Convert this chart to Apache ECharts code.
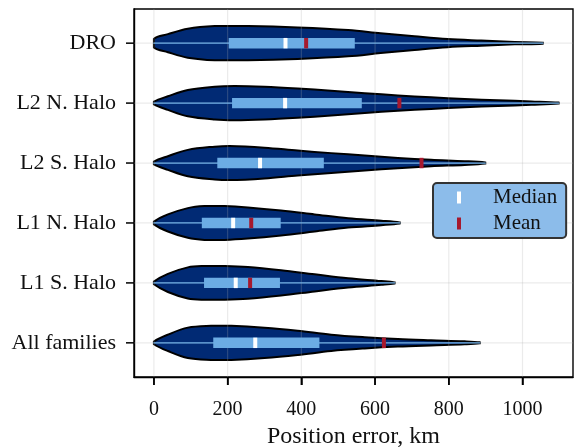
<!DOCTYPE html>
<html>
<head>
<meta charset="utf-8">
<script src="https://cdn.jsdelivr.net/npm/echarts@6/dist/echarts.min.js"></script>
<style>html,body{margin:0;padding:0;background:#fff}#c{width:575px;height:447px}</style>
</head>
<body>
<div id="c"></div>
<script>
const categories = ['DRO', 'L2 N. Halo', 'L2 S. Halo', 'L1 N. Halo', 'L1 S. Halo', 'All families'];
const xTicks = [0, 200, 400, 600, 800, 1000];
const q1 = [203, 212, 172, 130, 136, 161];
const q3 = [545, 564, 461, 344, 342, 449];
const medians = [357, 356, 288, 215, 222, 275];
const means = [413, 666, 726, 264, 261, 624];
const maxima = [1055, 1098, 899, 667, 653, 884];

// violin outlines: position (km) and relative density width
const droKm = [0, 38, 92, 165, 255, 390, 527, 615, 707, 797, 888, 979, 1055];
const droW = [0.25, 0.53, 0.85, 1, 1, 0.92, 0.77, 0.58, 0.40, 0.24, 0.15, 0.07, 0.03];
const l2nKm = [0, 38, 92, 165, 219, 300, 390, 481, 572, 662, 752, 843, 934, 1024, 1098];
const l2nW = [0.08, 0.40, 0.77, 0.96, 1, 0.96, 0.86, 0.73, 0.58, 0.45, 0.34, 0.24, 0.17, 0.10, 0.03];
const l2sKm = [0, 38, 92, 165, 205, 300, 390, 481, 572, 662, 752, 843, 899];
const l2sW = [0.08, 0.40, 0.77, 0.96, 1, 0.90, 0.73, 0.58, 0.44, 0.30, 0.19, 0.11, 0.03];
const l1nKm = [0, 38, 92, 137, 192, 255, 345, 436, 527, 617, 667];
const l1nW = [0.08, 0.50, 0.87, 0.99, 0.99, 0.91, 0.73, 0.50, 0.27, 0.13, 0.03];
const l1sKm = [0, 38, 92, 137, 192, 255, 345, 436, 527, 617, 653];
const l1sW = [0.08, 0.53, 0.91, 0.99, 0.99, 0.93, 0.74, 0.50, 0.27, 0.11, 0.03];
const allKm = [0, 38, 92, 155, 210, 300, 390, 481, 572, 662, 752, 843, 884];
const allW = [0.08, 0.48, 0.89, 1, 1, 0.89, 0.71, 0.48, 0.33, 0.22, 0.15, 0.09, 0.03];

const profiles = [
  [droKm, droW], [l2nKm, l2nW], [l2sKm, l2sW],
  [l1nKm, l1nW], [l1sKm, l1sW], [allKm, allW]
];

const NAVY = '#012a74';
const LIGHT = '#6cace4';
const RED = '#a6192e';
const FONT = 'Liberation Serif';
const HALF = 0.285;   // max violin half-width in category units
const BOXH = 0.087;   // box half-height in category units
const PAD = 0.57;     // axis padding beyond the outer categories (category units)
const TICK = 8;       // tick length, px
const N = categories.length;
const X_MIN = -54, X_MAX = 1137;

// category i (top to bottom) -> y value on the axis (0 at the bottom edge)
const yPos = i => (N - 1 - i) + PAD;
const catIdx = categories.map((c, i) => i);
const catTicks = catIdx.map(yPos);
const catData = catIdx.map(i => [0, i]);

function renderViolin(params, api) {
  const i = api.value(1);
  const km = profiles[i][0], w = profiles[i][1];
  const unit = api.size([0, 1])[1];
  const top = [], bot = [];
  let minX = Infinity, maxX = -Infinity, minY = Infinity, maxY = -Infinity;
  for (let k = 0; k < km.length; k++) {
    const p = api.coord([km[k], yPos(i)]);
    const h = w[k] * HALF * unit;
    top.push([p[0], p[1] - h]);
    bot.unshift([p[0], p[1] + h]);
    minX = Math.min(minX, p[0]); maxX = Math.max(maxX, p[0]);
    minY = Math.min(minY, p[1] - h); maxY = Math.max(maxY, p[1] + h);
  }
  return {
    type: 'polygon',
    shape: { points: top.concat(bot), smooth: 0.35, smoothConstraint: [[minX, minY], [maxX, maxY]] },
    style: { fill: NAVY, stroke: '#000', lineWidth: 2 }
  };
}

function renderGrid(params, api) {
  const cs = params.coordSys;
  const kind = api.value(0), v = api.value(1);
  let shape;
  if (kind === 0) {
    const p = api.coord([v, 1]);
    shape = { x1: p[0], y1: cs.y, x2: p[0], y2: cs.y + cs.height };
  } else {
    const p = api.coord([0, yPos(v)]);
    shape = { x1: cs.x, y1: p[1], x2: cs.x + cs.width, y2: p[1] };
  }
  return { type: 'line', shape: shape, style: { stroke: 'rgba(175,175,175,0.25)', lineWidth: 1.2 } };
}

// outward axis ticks at the tick values
function renderTicks(params, api) {
  const cs = params.coordSys;
  const kind = api.value(0), v = api.value(1);
  let shape;
  if (kind === 0) {
    const p = api.coord([v, 1]);
    const yb = cs.y + cs.height;
    shape = { x1: p[0], y1: yb, x2: p[0], y2: yb + TICK };
  } else {
    const p = api.coord([0, yPos(v)]);
    shape = { x1: cs.x, y1: p[1], x2: cs.x - TICK, y2: p[1] };
  }
  return { type: 'line', shape: shape, style: { stroke: '#000', lineWidth: 1.5 } };
}

function renderBox(params, api) {
  const i = api.value(1);
  const y = yPos(i);
  const unit = api.size([0, 1])[1];
  const a = api.coord([0, y]), b = api.coord([maxima[i], y]);
  const l = api.coord([q1[i], y]), r = api.coord([q3[i], y]);
  const h = BOXH * unit;
  return {
    type: 'group',
    children: [
      { type: 'line', shape: { x1: a[0], y1: a[1], x2: b[0], y2: b[1] },
        style: { stroke: LIGHT, lineWidth: 1.3, lineCap: 'round' } },
      { type: 'rect', shape: { x: l[0], y: l[1] - h, width: r[0] - l[0], height: 2 * h },
        style: { fill: LIGHT } }
    ]
  };
}

function makeMarker(values, color) {
  return function (params, api) {
    const i = api.value(1);
    const unit = api.size([0, 1])[1];
    const p = api.coord([values[i], yPos(i)]);
    const h = BOXH * unit;
    return { type: 'rect', shape: { x: p[0] - 2, y: p[1] - h, width: 4, height: 2 * h },
      style: { fill: color } };
  };
}

const gridData = xTicks.map(v => [0, v]).concat(catIdx.map(i => [1, i]));

const chart = echarts.init(document.getElementById('c'), null, { renderer: 'canvas' });
chart.setOption({
  animation: false,
  backgroundColor: '#fff',
  textStyle: { fontFamily: FONT },
  grid: { left: 134, right: 2, top: 9, bottom: 70, show: true, borderColor: '#000', borderWidth: 1.4,
    backgroundColor: 'transparent', containLabel: false, outerBoundsMode: 'none' },
  xAxis: {
    type: 'value', min: X_MIN, max: X_MAX,
    name: 'Position error, km', nameLocation: 'middle', nameGap: 48,
    nameTextStyle: { fontFamily: FONT, fontSize: 24, color: '#111' },
    axisLine: { show: true, lineStyle: { color: '#000', width: 1.4 } },
    axisTick: { show: true, customValues: xTicks, length: TICK, lineStyle: { color: '#000', width: 1.5 } },
    axisLabel: { customValues: xTicks, margin: 23, fontFamily: FONT, fontSize: 20, color: '#111',
      formatter: v => String(v) },
    splitLine: { show: false }
  },
  yAxis: {
    type: 'value', min: 0, max: N - 1 + 2 * PAD,
    axisLine: { show: true, onZero: false, lineStyle: { color: '#000', width: 1.4 } },
    axisTick: { show: false },
    axisLabel: { customValues: catTicks, margin: 18, fontFamily: FONT, fontSize: 22, color: '#111',
      formatter: v => categories[Math.round(N - 1 + PAD - v)] },
    splitLine: { show: false }
  },
  legend: {
    orient: 'vertical', left: 433, top: 183,
    backgroundColor: '#8cbcea', borderColor: '#333', borderWidth: 2, borderRadius: 4,
    padding: [4, 9, 4, 24], itemGap: 5, itemWidth: 4, itemHeight: 12,
    textStyle: { fontFamily: FONT, fontSize: 21, color: '#111', padding: [0, 0, 0, 27] },
    data: [
      { name: 'Median', icon: 'rect', itemStyle: { color: '#ffffff' } },
      { name: 'Mean', icon: 'rect', itemStyle: { color: RED } }
    ]
  },
  series: [
    { type: 'custom', name: 'violins', renderItem: renderViolin, data: catData, z: 2, clip: true, silent: true },
    { type: 'custom', name: 'grid', renderItem: renderGrid, data: gridData, z: 3, clip: true, silent: true },
    { type: 'custom', name: 'ticks', renderItem: renderTicks, data: gridData, z: 10, clip: false, silent: true },
    { type: 'custom', name: 'boxes', renderItem: renderBox, data: catData, z: 4, silent: true },
    { type: 'custom', name: 'Median', renderItem: makeMarker(medians, '#ffffff'), data: catData, z: 5, itemStyle: { color: '#ffffff' }, silent: true },
    { type: 'custom', name: 'Mean', renderItem: makeMarker(means, RED), data: catData, z: 6, itemStyle: { color: RED }, silent: true }
  ]
});
</script>
</body>
</html>
